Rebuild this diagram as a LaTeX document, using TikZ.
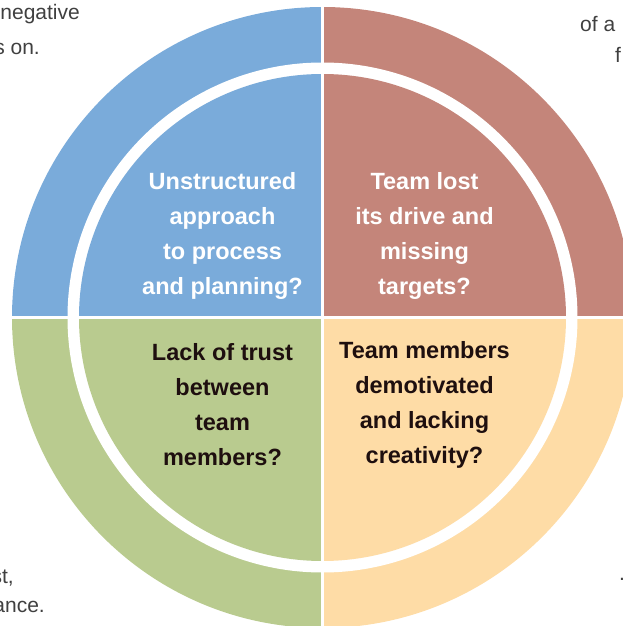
\documentclass[tikz,border=0pt]{standalone}
\usepackage{fontspec}
\setmainfont{Liberation Sans}
\definecolor{qblue}{HTML}{7AABDA}
\definecolor{qred}{HTML}{C4857A}
\definecolor{qgreen}{HTML}{B9CB8F}
\definecolor{qorange}{HTML}{FEDCA6}
\definecolor{qdark}{HTML}{1E0F0F}
\begin{document}
\begin{tikzpicture}[
    x=1pt, y=1pt,
    sector/.style={fill=#1, draw=none},
    question/.style={font=\bfseries\fontsize{23.5}{35}\selectfont, align=center, inner sep=0pt, text=#1},
    sidenote/.style={font=\fontsize{21}{34}\selectfont, text=black!75, inner sep=0pt}
]
    % Page frame
    \useasboundingbox (-322.5,-308.5) rectangle (299.5,317.5);

    % Outer ring
    \foreach \col/\a in {qred/0, qblue/90, qgreen/180, qorange/270}
        \fill[sector=\col] (0,0) -- (\a:310.5) arc[start angle=\a, delta angle=90, radius=310.5] -- cycle;
    \fill[white] (0,0) circle[radius=255];

    % Inner disc
    \foreach \col/\a in {qred/0, qblue/90, qgreen/180, qorange/270}
        \fill[sector=\col] (0,0) -- (\a:243.5) arc[start angle=\a, delta angle=90, radius=243.5] -- cycle;

    % White cross between quadrants
    \draw[white, line width=3pt] (0,-315) -- (0,320);
    \draw[white, line width=3pt] (-315,0) -- (315,0);

    % Questions
    \node[question=white] (plan) at (-100,81.5) {Unstructured\\approach\\to process\\and planning?};
    \node[question=white] (drive) at (102,81.5) {Team lost\\its drive and\\missing\\targets?};
    \node[question=qdark] (trust) at (-100,-87) {Lack of trust\\between\\team\\members?};
    \node[question=qdark] (motive) at (102,-87) {Team members\\demotivated\\and lacking\\creativity?};

    % Cut-off text at the page edges
    \node[sidenote, anchor=east] (tl1) at (-242.5,303.5) {negative};
    \node[sidenote, anchor=east] (tl2) at (-282.5,268.5) {s on.};
    \node[sidenote, anchor=west] (tr1) at (257.5,293.5) {of a};
    \node[sidenote, anchor=west] (tr2) at (292.5,262.5) {f};
    \node[sidenote, anchor=east] (bl1) at (-308.5,-260.5) {st,};
    \node[sidenote, anchor=east] (bl2) at (-277.5,-289.5) {ance.};
    \node[sidenote, anchor=west] (br1) at (296.5,-261.5) {.};
\end{tikzpicture}
\end{document}
